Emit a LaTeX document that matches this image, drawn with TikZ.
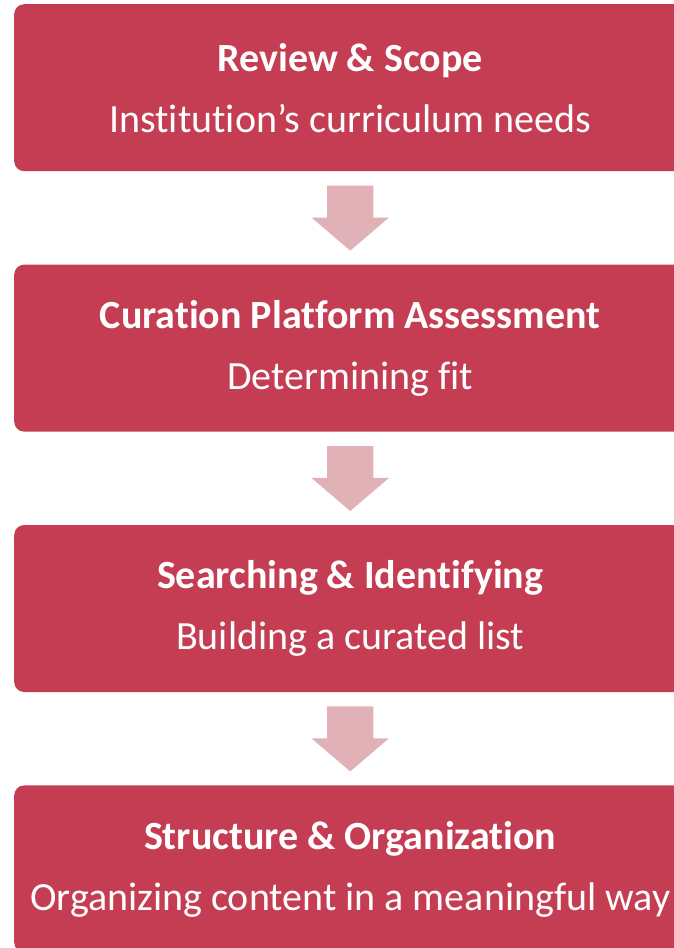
\documentclass[tikz,border=0pt]{standalone}
\usepackage{fontspec}
\setmainfont[Ligatures={NoCommon}]{Carlito}
\usetikzlibrary{positioning,calc,shapes.arrows}
\definecolor{StepRed}{HTML}{C53D52}
\definecolor{StepPink}{HTML}{E0B1B6}
\begin{document}
\begin{tikzpicture}[x=1pt,y=1pt,node distance=93pt]
  \tikzstyle{stage}=[rounded corners=10pt, fill=StepRed, text=white, minimum height=167pt, minimum width=672pt, align=center, inner sep=0pt, font=\fontsize{40}{61}\selectfont]
  \tikzstyle{flow}=[single arrow, fill=StepPink, rotate=-90, anchor=tail, minimum height=65pt, minimum width=77pt, single arrow head extend=15.5pt, single arrow tip angle=99, inner xsep=0pt, inner ysep=23pt]
  \useasboundingbox (0,0) rectangle (674,-948);
  \node[stage, anchor=north west] (review) at (14,-4) {\textbf{Review \& Scope}\\Institution’s curriculum needs};
  \node[stage, below=of review] (platform) {\textbf{Curation Platform Assessment}\\Determining fit};
  \node[stage, below=of platform] (search) {\textbf{Searching \& Identifying}\\Building a curated list};
  \node[stage, below=of search] (structure) {\textbf{Structure \& Organization}\\Organizing content in a meaningful way};
  \node[flow] (a1) at ($(review.south)!0.5!(platform.north)+(0,32.5)$) {};
  \node[flow] (a2) at ($(platform.south)!0.5!(search.north)+(0,32.5)$) {};
  \node[flow] (a3) at ($(search.south)!0.5!(structure.north)+(0,32.5)$) {};
\end{tikzpicture}
\end{document}
